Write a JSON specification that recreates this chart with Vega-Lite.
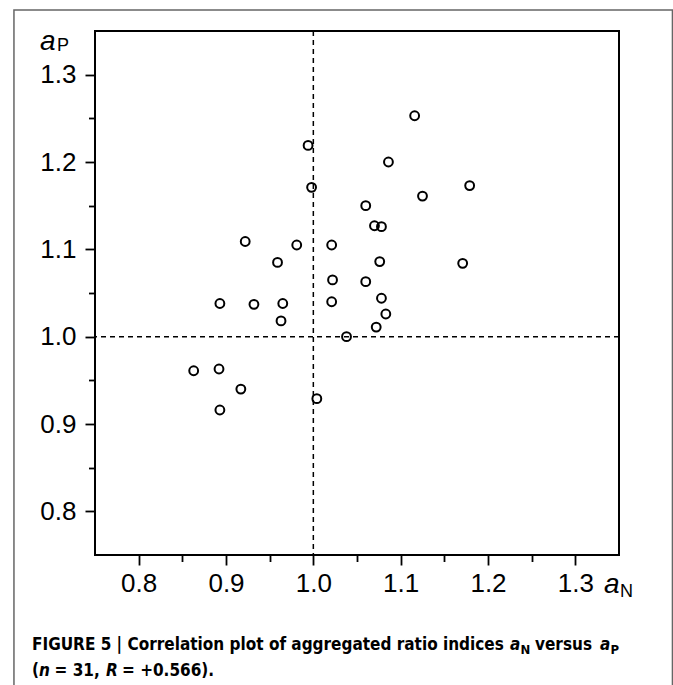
{
  "$schema": "https://vega.github.io/schema/vega-lite/v6.json",
  "autosize": {"type": "none"},
  "width": 524,
  "height": 524,
  "padding": {"left": 95, "top": 31, "right": 54, "bottom": 130},
  "background": "white",
  "data": {"values": [{"k": 1}]},
  "config": {
    "view": {"stroke": "black", "strokeWidth": 2},
    "axis": {
      "domain": false,
      "grid": false,
      "ticks": true,
      "tickColor": "black",
      "tickWidth": 1.8,
      "labelColor": "black",
      "labelFont": "Liberation Sans",
      "labelFontSize": 26,
      "title": null
    }
  },
  "datasets": {
    "pts": [
      {"aN": 0.863, "aP": 0.961},
      {"aN": 0.892, "aP": 0.963},
      {"aN": 0.917, "aP": 0.940},
      {"aN": 0.893, "aP": 0.916},
      {"aN": 0.893, "aP": 1.038},
      {"aN": 0.932, "aP": 1.037},
      {"aN": 0.965, "aP": 1.038},
      {"aN": 0.963, "aP": 1.018},
      {"aN": 0.922, "aP": 1.109},
      {"aN": 0.981, "aP": 1.105},
      {"aN": 0.959, "aP": 1.085},
      {"aN": 0.994, "aP": 1.219},
      {"aN": 0.998, "aP": 1.171},
      {"aN": 1.004, "aP": 0.929},
      {"aN": 1.021, "aP": 1.105},
      {"aN": 1.022, "aP": 1.065},
      {"aN": 1.021, "aP": 1.040},
      {"aN": 1.038, "aP": 1.000},
      {"aN": 1.060, "aP": 1.150},
      {"aN": 1.070, "aP": 1.127},
      {"aN": 1.078, "aP": 1.126},
      {"aN": 1.060, "aP": 1.063},
      {"aN": 1.076, "aP": 1.086},
      {"aN": 1.078, "aP": 1.044},
      {"aN": 1.083, "aP": 1.026},
      {"aN": 1.072, "aP": 1.011},
      {"aN": 1.116, "aP": 1.253},
      {"aN": 1.086, "aP": 1.200},
      {"aN": 1.125, "aP": 1.161},
      {"aN": 1.179, "aP": 1.173},
      {"aN": 1.171, "aP": 1.084}
    ]
  },
  "layer": [
    {
      "mark": {"type": "rect", "filled": false, "stroke": "#666666", "strokeWidth": 1.5},
      "encoding": {
        "x": {"datum": 0.6572, "type": "quantitative"},
        "x2": {"datum": 1.4112},
        "y": {"datum": 1.374, "type": "quantitative"},
        "y2": {"datum": 0.55}
      }
    },
    {
      "mark": {"type": "rule", "stroke": "black", "strokeWidth": 1.5, "strokeDash": [5, 4]},
      "encoding": {"x": {"datum": 1.0, "type": "quantitative"}}
    },
    {
      "mark": {"type": "rule", "stroke": "black", "strokeWidth": 1.5, "strokeDash": [5, 4]},
      "encoding": {"y": {"datum": 1.0, "type": "quantitative"}}
    },
    {
      "data": {"name": "pts"},
      "mark": {"type": "point", "shape": "circle", "filled": false, "stroke": "black", "strokeWidth": 2, "size": 78, "opacity": 1},
      "encoding": {
        "x": {
          "field": "aN", "type": "quantitative",
          "scale": {"domain": [0.75, 1.35], "nice": false, "zero": false},
          "axis": {
            "values": [0.8, 0.85, 0.9, 0.95, 1.0, 1.05, 1.1, 1.15, 1.2, 1.25, 1.3],
            "tickSize": {"condition": {"test": "abs(datum.value*10 - round(datum.value*10)) < 0.001", "value": 10}, "value": 6.5},
            "labelExpr": "abs(datum.value*10 - round(datum.value*10)) < 0.001 ? format(datum.value, '.1f') : ''",
            "labelFontSize": 26,
            "labelPadding": 5
          }
        },
        "y": {
          "field": "aP", "type": "quantitative",
          "scale": {"domain": [0.75, 1.35], "nice": false, "zero": false},
          "axis": {
            "values": [0.8, 0.85, 0.9, 0.95, 1.0, 1.05, 1.1, 1.15, 1.2, 1.25, 1.3],
            "tickSize": {"condition": {"test": "abs(datum.value*10 - round(datum.value*10)) < 0.001", "value": 10}, "value": 6.5},
            "labelExpr": "abs(datum.value*10 - round(datum.value*10)) < 0.001 ? format(datum.value, '.1f') : ''",
            "labelFontSize": 26,
            "labelPadding": 9
          }
        }
      }
    },
    {
      "mark": {"type": "text", "text": "a", "font": "Liberation Sans", "fontStyle": "italic", "fontSize": 28, "align": "left", "baseline": "alphabetic"},
      "encoding": {"x": {"datum": 0.68702, "type": "quantitative"}, "y": {"datum": 1.3282, "type": "quantitative"}}
    },
    {
      "mark": {"type": "text", "text": "P", "font": "Liberation Sans", "fontSize": 18, "align": "left", "baseline": "alphabetic"},
      "encoding": {"x": {"datum": 0.70649, "type": "quantitative"}, "y": {"datum": 1.3271, "type": "quantitative"}}
    },
    {
      "mark": {"type": "text", "text": "a", "font": "Liberation Sans", "fontStyle": "italic", "fontSize": 28, "align": "left", "baseline": "alphabetic"},
      "encoding": {"x": {"datum": 1.33284, "type": "quantitative"}, "y": {"datum": 0.70647, "type": "quantitative"}}
    },
    {
      "mark": {"type": "text", "text": "N", "font": "Liberation Sans", "fontSize": 18, "align": "left", "baseline": "alphabetic"},
      "encoding": {"x": {"datum": 1.35116, "type": "quantitative"}, "y": {"datum": 0.70189, "type": "quantitative"}}
    },
    {
      "mark": {"type": "text", "text": "FIGURE 5 | Correlation plot of aggregated ratio indices", "font": "DejaVu Sans Condensed, Liberation Sans", "fontWeight": "bold", "fontSize": 17, "align": "left", "baseline": "alphabetic"},
      "encoding": {"x": {"datum": 0.67786, "type": "quantitative"}, "y": {"datum": 0.64119, "type": "quantitative"}}
    },
    {
      "mark": {"type": "text", "text": "a", "font": "DejaVu Sans Condensed, Liberation Sans", "fontWeight": "bold", "fontStyle": "italic", "fontSize": 17, "align": "left", "baseline": "alphabetic"},
      "encoding": {"x": {"datum": 1.22521, "type": "quantitative"}, "y": {"datum": 0.64119, "type": "quantitative"}}
    },
    {
      "mark": {"type": "text", "text": "N", "font": "DejaVu Sans Condensed, Liberation Sans", "fontWeight": "bold", "fontSize": 13, "align": "left", "baseline": "alphabetic"},
      "encoding": {"x": {"datum": 1.23723, "type": "quantitative"}, "y": {"datum": 0.63661, "type": "quantitative"}}
    },
    {
      "mark": {"type": "text", "text": "versus", "font": "DejaVu Sans Condensed, Liberation Sans", "fontWeight": "bold", "fontSize": 17, "align": "left", "baseline": "alphabetic"},
      "encoding": {"x": {"datum": 1.25383, "type": "quantitative"}, "y": {"datum": 0.64119, "type": "quantitative"}}
    },
    {
      "mark": {"type": "text", "text": "a", "font": "DejaVu Sans Condensed, Liberation Sans", "fontWeight": "bold", "fontStyle": "italic", "fontSize": 17, "align": "left", "baseline": "alphabetic"},
      "encoding": {"x": {"datum": 1.32826, "type": "quantitative"}, "y": {"datum": 0.64119, "type": "quantitative"}}
    },
    {
      "mark": {"type": "text", "text": "P", "font": "DejaVu Sans Condensed, Liberation Sans", "fontWeight": "bold", "fontSize": 13, "align": "left", "baseline": "alphabetic"},
      "encoding": {"x": {"datum": 1.34028, "type": "quantitative"}, "y": {"datum": 0.63661, "type": "quantitative"}}
    },
    {
      "mark": {"type": "text", "text": "(", "font": "DejaVu Sans Condensed, Liberation Sans", "fontWeight": "bold", "fontSize": 17, "align": "left", "baseline": "alphabetic"},
      "encoding": {"x": {"datum": 0.67786, "type": "quantitative"}, "y": {"datum": 0.61143, "type": "quantitative"}}
    },
    {
      "mark": {"type": "text", "text": "n", "font": "DejaVu Sans Condensed, Liberation Sans", "fontWeight": "bold", "fontStyle": "italic", "fontSize": 17, "align": "left", "baseline": "alphabetic"},
      "encoding": {"x": {"datum": 0.68588, "type": "quantitative"}, "y": {"datum": 0.61143, "type": "quantitative"}}
    },
    {
      "mark": {"type": "text", "text": "= 31,", "font": "DejaVu Sans Condensed, Liberation Sans", "fontWeight": "bold", "fontSize": 17, "align": "left", "baseline": "alphabetic"},
      "encoding": {"x": {"datum": 0.70362, "type": "quantitative"}, "y": {"datum": 0.61143, "type": "quantitative"}}
    },
    {
      "mark": {"type": "text", "text": "R", "font": "DejaVu Sans Condensed, Liberation Sans", "fontWeight": "bold", "fontStyle": "italic", "fontSize": 17, "align": "left", "baseline": "alphabetic"},
      "encoding": {"x": {"datum": 0.7626, "type": "quantitative"}, "y": {"datum": 0.61143, "type": "quantitative"}}
    },
    {
      "mark": {"type": "text", "text": "= +0.566).", "font": "DejaVu Sans Condensed, Liberation Sans", "fontWeight": "bold", "fontSize": 17, "align": "left", "baseline": "alphabetic"},
      "encoding": {"x": {"datum": 0.78092, "type": "quantitative"}, "y": {"datum": 0.61143, "type": "quantitative"}}
    }
  ]
}
